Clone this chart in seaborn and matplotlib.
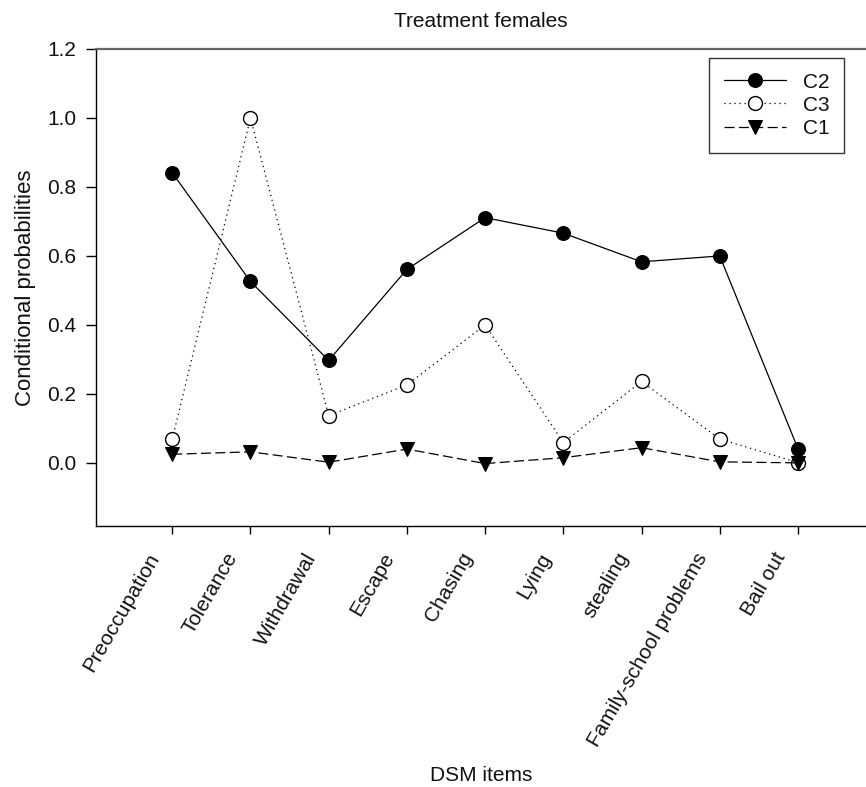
import matplotlib
matplotlib.use("Agg")
import matplotlib.pyplot as plt
import matplotlib.transforms as mtransforms
import seaborn as sns
import pandas as pd

categories = ["Preoccupation", "Tolerance", "Withdrawal", "Escape", "Chasing",
              "Lying", "stealing", "Family-school problems", "Bail out"]
c2 = [0.841, 0.526, 0.297, 0.561, 0.711, 0.666, 0.583, 0.600, 0.041]
c3 = [0.069, 1.000, 0.137, 0.226, 0.400, 0.059, 0.236, 0.069, 0.001]
c1 = [0.025, 0.032, 0.002, 0.040, -0.002, 0.015, 0.044, 0.003, 0.000]
yticks = [0.0, 0.2, 0.4, 0.6, 0.8, 1.0, 1.2]

sns.set_theme(style="white")
plt.rcParams["font.family"] = ["Liberation Sans", "DejaVu Sans"]
plt.rcParams["text.color"] = "#111111"
plt.rcParams["axes.labelcolor"] = "#111111"
plt.rcParams["xtick.color"] = "#111111"
plt.rcParams["ytick.color"] = "#111111"

FS = 15
fig = plt.figure(figsize=(8.66, 7.87), dpi=100)
ax = fig.add_axes([96 / 866, 1 - 526 / 787, 1 - 96 / 866, (526 - 49) / 787])

df = pd.DataFrame({"item": categories, "C2": c2, "C3": c3, "C1": c1})
xpos = list(range(len(categories)))

sns.lineplot(x=xpos, y=df["C2"], ax=ax, color="black", lw=0.9, linestyle="-",
             marker="o", markersize=10, markerfacecolor="black",
             markeredgecolor="black", label="C2")
sns.lineplot(x=xpos, y=df["C3"], ax=ax, color="black", lw=0.9, linestyle=(0, (1, 3)),
             marker="o", markersize=10, markerfacecolor="white",
             markeredgecolor="black", markeredgewidth=1.0, label="C3")
sns.lineplot(x=xpos, y=df["C1"], ax=ax, color="black", lw=0.9, linestyle=(0, (8, 3.5)),
             marker="v", markersize=10, markerfacecolor="black",
             markeredgecolor="black", label="C1")

ax.set_xlim(-0.975, 8.87)
ax.set_ylim(-0.183, 1.2)
ax.set_xticks(xpos)
ax.set_xticklabels(categories, rotation=60, ha="right", va="center",
                   rotation_mode="anchor", fontsize=FS)
ax.set_yticks(yticks)
ax.set_yticklabels([f"{v:.1f}" for v in yticks], fontsize=FS)
ax.tick_params(axis="x", direction="out", length=6, width=1, color="black",
               bottom=True, pad=10)
ax.tick_params(axis="y", direction="out", length=7, width=1, color="black",
               left=True, pad=7)

offset = mtransforms.ScaledTranslation(-17 / 100, -6 / 100, fig.dpi_scale_trans)
for lab in ax.get_xticklabels():
    lab.set_transform(lab.get_transform() + offset)

for s in ["left", "bottom"]:
    ax.spines[s].set_color("black")
    ax.spines[s].set_linewidth(1.0)
ax.spines["top"].set_color("#666666")
ax.spines["top"].set_linewidth(1.6)
ax.spines["right"].set_visible(False)

ax.set_title("Treatment females", fontsize=FS, pad=16)
ax.set_xlabel("DSM items", fontsize=FS, labelpad=12)
ax.set_ylabel("Conditional probabilities", fontsize=FS + 1, labelpad=8)

leg = ax.legend(loc="upper right", bbox_to_anchor=(844 / 866, 1 - 58 / 787),
                bbox_transform=fig.transFigure, fontsize=FS,
                frameon=True, fancybox=False, edgecolor="black", handlelength=3.0,
                handletextpad=0.8, borderpad=0.7, labelspacing=0.2,
                borderaxespad=0)
leg.get_frame().set_linewidth(1.0)

fig.savefig("out.png", dpi=100, facecolor="white")
